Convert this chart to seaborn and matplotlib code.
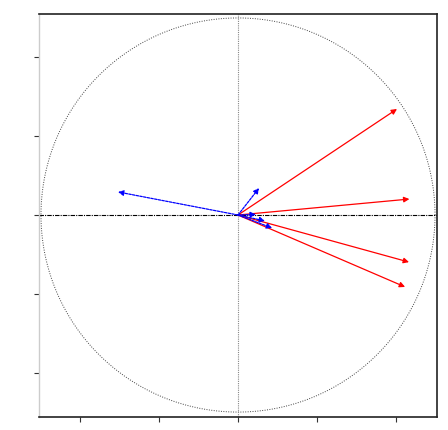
import numpy as np
import matplotlib
matplotlib.use("Agg")
import matplotlib.pyplot as plt
import seaborn as sns

# Correlation circle: active variables (red) and supplementary variables (blue)
active_x = [0.807, 0.870, 0.868, 0.848]
active_y = [0.538, 0.081, -0.239, -0.365]
supp_x = [-0.609, 0.107, 0.091, 0.137, 0.173]
supp_y = [0.117, 0.137, 0.003, -0.030, -0.066]
ticks = [-0.8, -0.4, 0.0, 0.4, 0.8]

sns.set_style("ticks")
fig = plt.figure(figsize=(4.48, 4.31), dpi=100)
ax = fig.add_axes([39 / 448, 13 / 431, 398 / 448, 403 / 431])

# unit circle
theta = np.linspace(0, 2 * np.pi, 400)
ax.plot(np.cos(theta), np.sin(theta), color="#444444", lw=0.7, ls=(0, (1, 1.5)))

# axes through origin
ax.axhline(0, color="black", lw=0.8, ls=(0, (4, 1, 1, 1)))
ax.axvline(0, color="#888888", lw=0.8, ls=(0, (1, 1)))

for x, y in zip(active_x, active_y):
    ax.annotate("", xy=(x, y), xytext=(0, 0),
                arrowprops=dict(arrowstyle="-|>", color="red", lw=0.9,
                                mutation_scale=8, shrinkA=0, shrinkB=0))
for x, y in zip(supp_x, supp_y):
    ax.annotate("", xy=(x, y), xytext=(0, 0),
                arrowprops=dict(arrowstyle="-|>", color="blue", lw=0.9,
                                ls=(0, (2, 1)), mutation_scale=8,
                                shrinkA=0, shrinkB=0))

ax.set_xlim(-1.01, 1.01)
ax.set_ylim(-1.025, 1.02)
ax.set_xticks(ticks)
ax.set_yticks(ticks)
ax.set_xticklabels([])
ax.set_yticklabels([])
ax.tick_params(direction="out", length=3.5, width=0.8, colors="#333333")
for side in ["top", "bottom", "right"]:
    ax.spines[side].set_color("#222222")
    ax.spines[side].set_linewidth(1.2)
ax.spines["left"].set_color("#cccccc")
ax.spines["left"].set_linewidth(1.0)

fig.savefig("out.png", dpi=100)
